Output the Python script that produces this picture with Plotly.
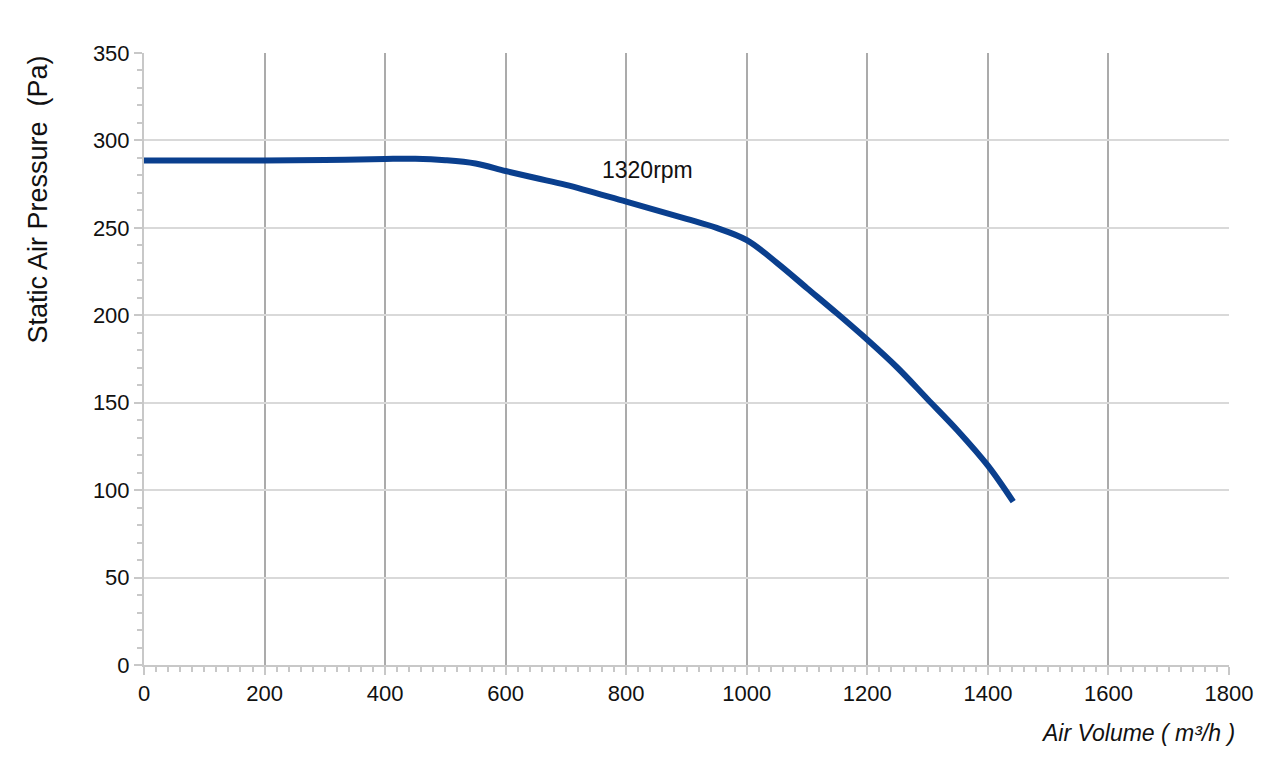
import plotly.graph_objects as go

air_volume = [0, 100, 200, 300, 400, 450, 500, 550, 600, 650, 700, 800, 900, 950, 1000,
              1050, 1100, 1150, 1200, 1250, 1300, 1350, 1400, 1442]
static_pressure = [288.5, 288.5, 288.5, 288.8, 289.4, 289.5, 288.7, 286.8, 282.5, 278.5, 274.6,
                   265.0, 255.2, 250.0, 243.0, 230.0, 215.5, 201.0, 186.0, 170.0, 152.0,
                   134.0, 114.0, 93.4]
curve_label = "1320rpm"
label_pos = (836, 283)

x_ticks = [0, 200, 400, 600, 800, 1000, 1200, 1400, 1600, 1800]
y_ticks = [0, 50, 100, 150, 200, 250, 300, 350]

font_family = "Liberation Sans, Arial, sans-serif"

fig = go.Figure()
fig.add_trace(go.Scatter(
    x=air_volume, y=static_pressure, mode="lines",
    line=dict(color="#0a3f8e", width=6, shape="spline", smoothing=1.0),
    hoverinfo="skip", showlegend=False,
))

fig.add_annotation(x=label_pos[0], y=label_pos[1], text=curve_label, showarrow=False,
                   font=dict(family=font_family, size=23, color="#111111"),
                   xanchor="center", yanchor="middle")

fig.add_annotation(xref="paper", yref="paper", x=1.0074, y=-0.111,
                   text="<i>Air Volume ( m³/h )</i>", showarrow=False,
                   xanchor="right", yanchor="middle",
                   font=dict(family=font_family, size=23, color="#111111"))

fig.add_annotation(xref="paper", yref="paper", x=-0.098, y=0.76,
                   text="Static Air Pressure  (Pa)", showarrow=False, textangle=-90,
                   xanchor="center", yanchor="middle",
                   font=dict(family=font_family, size=27, color="#111111"))

fig.update_xaxes(
    range=[0, 1800], tickvals=x_ticks, ticktext=[str(v) for v in x_ticks],
    showgrid=True, gridcolor="#ababab", gridwidth=2,
    showline=True, linecolor="#c8c8c8", linewidth=2,
    ticks="outside", ticklen=8, tickwidth=2, tickcolor="#c8c8c8",
    minor=dict(ticks="outside", dtick=20, ticklen=5, tickwidth=2, tickcolor="#c8c8c8", showgrid=False),
    tickfont=dict(family=font_family, size=22, color="#111111"),
    zeroline=False, fixedrange=True,
)
fig.update_yaxes(
    range=[0, 350], tickvals=y_ticks, ticktext=[str(v) for v in y_ticks],
    showgrid=True, gridcolor="#d9d9d9", gridwidth=2,
    showline=True, linecolor="#c8c8c8", linewidth=2,
    ticks="outside", ticklen=8, tickwidth=2, tickcolor="#c8c8c8",
    minor=dict(ticks="outside", dtick=10, ticklen=5, tickwidth=2, tickcolor="#c8c8c8", showgrid=False),
    tickfont=dict(family=font_family, size=22, color="#111111"),
    zeroline=False, fixedrange=True,
)

fig.update_layout(
    width=1284, height=775,
    margin=dict(l=136, r=63, t=45, b=118, autoexpand=False),
    plot_bgcolor="white", paper_bgcolor="white",
)

fig.write_html("out.html")
